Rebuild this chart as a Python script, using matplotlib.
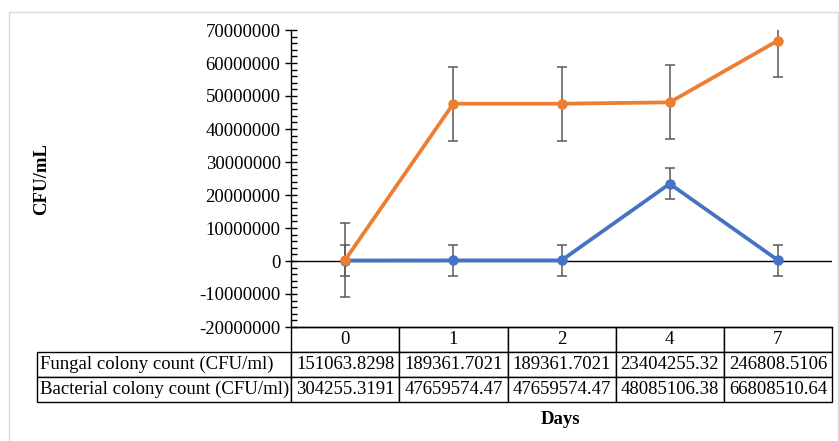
import numpy as np
import matplotlib.pyplot as plt
from matplotlib.patches import Rectangle
from matplotlib.ticker import MultipleLocator

plt.rcParams['font.family'] = ['Liberation Serif', 'DejaVu Serif']

# data
days = ['0', '1', '2', '4', '7']
fungal = [151063.8298, 189361.7021, 189361.7021, 23404255.32, 246808.5106]
bacterial = [304255.3191, 47659574.47, 47659574.47, 48085106.38, 66808510.64]
fungal_err = [4.7e6, 4.7e6, 4.7e6, 4.7e6, 4.7e6]
bacterial_err = [11.2e6, 11.2e6, 11.2e6, 11.2e6, 11.2e6]
row_labels = ['Fungal colony count (CFU/ml)', 'Bacterial colony count (CFU/ml)']

blue = '#4472C4'
orange = '#ED7D31'
errc = '#595959'

fig = plt.figure(figsize=(8.39, 4.41), dpi=100)
ax = fig.add_axes([291/839, 1-327/441, (832-291)/839, (327-30)/441])

x = np.arange(len(days))
ax.errorbar(x, fungal, yerr=fungal_err, fmt='none', ecolor=errc, elinewidth=1.1,
            capsize=3.5, capthick=1.1, zorder=2)
ax.errorbar(x, bacterial, yerr=bacterial_err, fmt='none', ecolor=errc, elinewidth=1.1,
            capsize=3.5, capthick=1.1, zorder=2)
ax.plot(x, fungal, color=blue, lw=2.7, marker='o', ms=6.5, zorder=3)
ax.plot(x, bacterial, color=orange, lw=2.7, marker='o', ms=6.5, zorder=4)
ax.axhline(0, color='black', lw=1, zorder=1)

ax.set_xlim(-0.5, 4.5)
ax.set_ylim(-20000000, 70000000)
ax.yaxis.set_major_locator(MultipleLocator(10000000))
ax.yaxis.set_minor_locator(MultipleLocator(2000000))
ax.tick_params(axis='y', which='major', direction='inout', length=8, width=1, labelsize=13.5)
ax.tick_params(axis='y', which='minor', direction='in', length=4, width=1)
ax.set_yticklabels([f'{int(v)}' for v in ax.get_yticks()])
ax.set_xticks([])
for s in ['top', 'right']:
    ax.spines[s].set_visible(False)
ax.spines['left'].set_linewidth(1)
ax.spines['bottom'].set_linewidth(1)

# data table under the plot
cell_text = [[row_labels[0]] + [f'{v:.10g}' for v in fungal],
             [row_labels[1]] + [f'{v:.10g}' for v in bacterial]]
tbl = ax.table(cellText=cell_text, colLabels=[''] + days,
               colWidths=[2.35, 1, 1, 1, 1, 1], cellLoc='center',
               bbox=[-254/541, -75/297, 795/541, 75/297])
tbl.auto_set_font_size(False)
tbl.set_fontsize(13.5)
for (r, c), cell in tbl.get_celld().items():
    cell.set_linewidth(1)
    cell.set_edgecolor('black')
    cell.PAD = 0.01
    if r == 0 and c == 0:
        cell.visible_edges = 'open'
    if c == 0 and r > 0:
        cell.get_text().set_ha('left')
        cell._loc = 'left'

ax.set_ylabel('CFU/mL', fontsize=13.5, fontweight='bold', labelpad=0)
ax.yaxis.set_label_coords((50-291)/541, 0.5)
fig.text(561/839, 1-420/441, 'Days', ha='center', va='center', fontsize=13.5, fontweight='bold')

fig.patches.append(Rectangle((9/839, -0.1), 829/839, 1.1 - 12/441, transform=fig.transFigure,
                             fill=False, edgecolor='#D9D9D9', lw=1))

fig.savefig('out.png', dpi=100)
